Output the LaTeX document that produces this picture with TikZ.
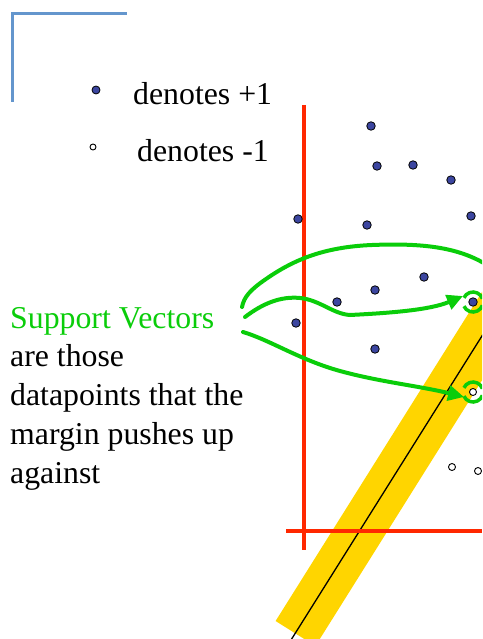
\documentclass[tikz,border=0pt]{standalone}
\usepackage{fontspec}
\setmainfont{Liberation Serif}
\usetikzlibrary{arrows.meta}
\definecolor{cornerblue}{RGB}{100,150,205}
\definecolor{redline}{RGB}{255,40,0}
\definecolor{band}{RGB}{255,213,0}
\definecolor{sgreen}{RGB}{10,205,10}
\definecolor{dotblue}{RGB}{60,70,160}
\tikzset{
  posdot/.style={circle,draw=black,line width=0.8pt,fill=dotblue,inner sep=0pt,minimum width=8.5pt,minimum height=7.5pt},
  negdot/.style={circle,draw=black,line width=0.9pt,fill=white,inner sep=0pt,minimum size=7pt},
  glin/.style={draw=sgreen,line width=4pt,line cap=round},
  garr/.style={glin,-{Triangle[length=16pt,width=15pt]}},
  redl/.style={draw=redline,line width=4pt},
  txt/.style={inner sep=0pt,font=\fontsize{31.8}{38.7}\selectfont}
}
\begin{document}
\begin{tikzpicture}[x=1pt,y=-1pt]
\useasboundingbox (0,0) rectangle (482,639);
\begin{scope}
\clip (0,0) rectangle (482,639);
% corner
\draw[cornerblue,line width=3pt] (12,102) -- (12,14) -- (127,14);
% legend
\node[posdot,minimum width=8pt,minimum height=7pt] (lp) at (96,90) {};
\node[negdot,minimum size=6pt] (ln) at (93,147) {};
\node[txt,anchor=base west] (tp) at (133,105) {denotes +1};
\node[txt,anchor=base west] (tn) at (137,162) {denotes -1};
% band and separator
\draw[band,line width=47pt] (295.5,633.5) -- (590,164);
\draw[black,line width=1.3pt] (291,640) -- (600,148);
% axes
\draw[redl] (304,105) -- (304,550);
\draw[redl] (286,531) -- (482,531);
% positive points
\foreach \n/\x/\y in {p1/371/126,p2/377/166,p3/413/165,p4/451/180,p5/298/219,p6/367/225,p7/471/216,p8/424/277,p9/375/290,p10/337/302,p11/296/323,p12/375/349}
  \node[posdot] (\n) at (\x,\y) {};
\node[posdot] (sv1) at (473,302) {};
% negative points
\node[negdot] (sv2) at (473,392) {};
\node[negdot] (n1) at (452,467) {};
\node[negdot] (n2) at (478,471) {};
% text (anchor base = baseline of last line)
\node[txt,anchor=base west,align=left] (lab) at (10,483) {\textcolor{sgreen}{Support Vectors}\\are those\\datapoints that the\\margin pushes up\\against};
% green strokes
\coordinate (s1) at (242,307);
\coordinate (s2) at (245,317);
\coordinate (s3) at (243,332);
\coordinate (e1) at (487,265);
\path[glin] (s1) .. controls (244,297) and (250,290) .. (266,279) .. controls (292,261) and (322,247) .. (372,245) .. controls (422,243) and (458,247) .. (e1);
\path[garr] (s2) .. controls (262,304) and (280,296) .. (300,298) .. controls (320,300) and (333,314) .. (350,315) .. controls (390,313) and (430,310) .. ([xshift=-10pt,yshift=6pt]sv1.center);
\path[garr] (s3) .. controls (270,340) and (300,360) .. (340,371) .. controls (380,382) and (420,386) .. ([xshift=-9pt,yshift=-5pt]sv2.center);
\foreach \s in {sv1,sv2}{
  \draw[sgreen,line width=3.5pt] ([shift={(20:10pt)}]\s.center) arc[start angle=20,end angle=155,radius=10pt];
  \draw[sgreen,line width=3.5pt] ([shift={(205:10pt)}]\s.center) arc[start angle=205,end angle=340,radius=10pt];
}
\end{scope}
\end{tikzpicture}
\end{document}
